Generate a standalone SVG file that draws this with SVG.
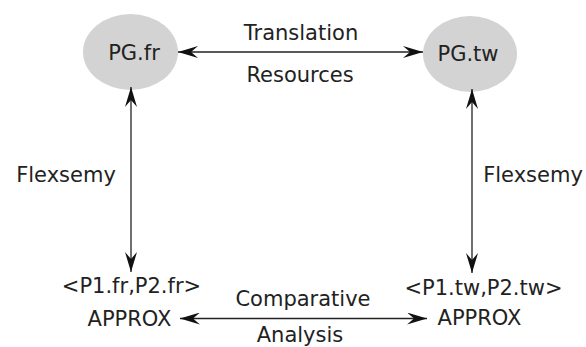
<svg xmlns="http://www.w3.org/2000/svg" width="586" height="347" viewBox="0 0 586 347">
<style>
text{font-family:"DejaVu Sans",sans-serif;font-size:21px;fill:#222;text-anchor:middle}
.n{fill:#d3d3d3;stroke:none}
.c{stroke:#222;stroke-width:1.3;fill:none;marker-start:url(#a);marker-end:url(#a)}
</style>
<defs>
<marker id="a" viewBox="0 0 20 12" refX="20" refY="6" markerWidth="20" markerHeight="12" markerUnits="userSpaceOnUse" orient="auto-start-reverse">
<path d="M20,6 L0,0 L7,6 L0,12 Z" fill="#111"/>
</marker>
</defs>
<rect width="586" height="347" fill="#fff"/>
<g id="pgfr"><ellipse class="n" cx="130.5" cy="52" rx="47.5" ry="38"/><text x="134" y="60">PG.fr</text></g>
<g id="pgtw"><ellipse class="n" cx="470" cy="54" rx="47" ry="38"/><text x="468" y="61">PG.tw</text></g>
<g id="approxfr"><text x="131.5" y="293">&lt;P1.fr,P2.fr&gt;</text><text x="129.5" y="326">APPROX</text></g>
<g id="approxtw"><text x="483.5" y="295">&lt;P1.tw,P2.tw&gt;</text><text x="479.5" y="325">APPROX</text></g>
<g id="connectors">
<line class="c" x1="178" y1="52" x2="423" y2="52"/>
<line class="c" x1="180" y1="318.5" x2="427" y2="318.5"/>
<line class="c" x1="131" y1="87" x2="131" y2="272"/>
<line class="c" x1="472" y1="89" x2="472" y2="273"/>
<text x="301" y="40">Translation</text>
<text x="300" y="82">Resources</text>
<text x="303" y="306">Comparative</text>
<text x="300" y="342">Analysis</text>
<text x="66" y="182">Flexsemy</text>
<text x="533" y="182">Flexsemy</text>
</g>
</svg>
